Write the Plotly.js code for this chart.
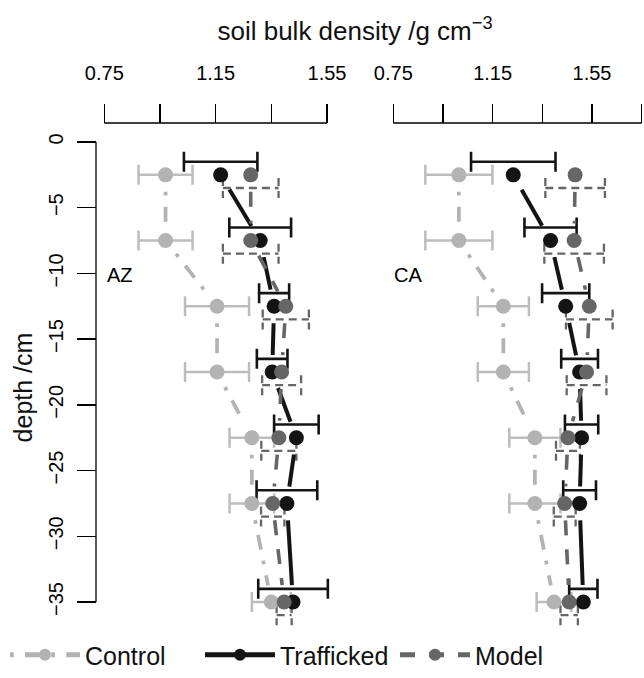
<!DOCTYPE html>
<html><head><meta charset="utf-8">
<script src="https://cdn.plot.ly/plotly-3.0.1.min.js"></script>
<style>html,body{margin:0;padding:0;background:#fff}</style>
</head><body>
<div id="chart" style="width:644px;height:678px"></div>
<script>
// ---------- data ----------
const depth = [-2.5, -7.5, -12.5, -17.5, -22.5, -27.5, -35];
const xTickVals = [0.75, 1.15, 1.55];
const xTickText = ['0.75', '1.15', '1.55'];
const xMinorLeft = [0.95, 1.35];
const xMinorRight = [0.95, 1.35, 1.75];
const yTickVals = [0, -5, -10, -15, -20, -25, -30, -35];
const siteNames = ['AZ', 'CA'];

const azControl   = [0.97, 0.97, 1.155, 1.155, 1.28, 1.28, 1.35];
const azControlSd = [0.097, 0.097, 0.115, 0.115, 0.08, 0.08, 0.07];
const azTraff     = [1.168, 1.31, 1.36, 1.353, 1.44, 1.406, 1.428];
const azTraffSd   = [0.132, 0.111, 0.054, 0.055, 0.08, 0.109, 0.125];
const azModel     = [1.276, 1.276, 1.402, 1.387, 1.377, 1.355, 1.396];
const azModelSd   = [0.10, 0.10, 0.083, 0.07, 0.063, 0.042, 0.027];

const caControl   = [1.014, 1.014, 1.193, 1.193, 1.32, 1.32, 1.397];
const caControlSd = [0.135, 0.135, 0.103, 0.103, 0.103, 0.103, 0.07];
const caTraff     = [1.233, 1.383, 1.444, 1.50, 1.508, 1.50, 1.515];
const caTraffSd   = [0.17, 0.105, 0.095, 0.074, 0.067, 0.066, 0.057];
const caModel     = [1.482, 1.478, 1.539, 1.528, 1.453, 1.44, 1.458];
const caModelSd   = [0.12, 0.12, 0.094, 0.08, 0.048, 0.044, 0.035];

// ---------- geometry (pixels) ----------
const W = 644, H = 678;
const FONT = 'Liberation Sans, Arial, Helvetica, sans-serif';
const px = v => v / W, py = v => 1 - v / H;
const yPix0 = 142, yPix35 = 602;              // pixel of y=0 and y=-35
const sy = (yPix35 - yPix0) / 35;              // px per cm
const yDom = [130, 645];
const yRange = [-35 - (yDom[1] - yPix35) / sy, 0 + (yPix0 - yDom[0]) / sy];

const xL = {p0: 104.3, p1: 327.0, v0: 0.75, v1: 1.55, dom: [92, 382]};
const xR = {p0: 393.3, p1: 641.7, v0: 0.75, v1: 1.75, dom: [386, 644]};
function scale(a) { return (a.p1 - a.p0) / (a.v1 - a.v0); }
function range(a) {
  const s = scale(a);
  return [a.v0 - (a.p0 - a.dom[0]) / s, a.v1 + (a.dom[1] - a.p1) / s];
}
const xAxisY = 123;
const yAxisX = 96;

const COL = {Control: '#B3B3B3', Trafficked: '#141414', Model: '#666666'};

// ---------- helpers ----------
function gapSeries(xs, ys, sx, gap) {
  const X = [], Y = [], S = [];
  for (let i = 0; i < xs.length; i++) {
    X.push(xs[i]); Y.push(ys[i]); S.push(15);
    if (i < xs.length - 1) {
      const ddx = xs[i + 1] - xs[i], ddy = ys[i + 1] - ys[i];
      const d = Math.hypot(ddx * sx, ddy * sy);
      X.push(null); Y.push(null); S.push(0);
      if (d > 2 * gap) {
        const f = gap / d;
        X.push(xs[i] + ddx * f, xs[i + 1] - ddx * f);
        Y.push(ys[i] + ddy * f, ys[i + 1] - ddy * f);
        S.push(0, 0);
        X.push(null); Y.push(null); S.push(0);
      }
    }
  }
  return {X, Y, S};
}
function capBars(xs, sds, ys, off, capPx) {
  const X = [], Y = [];
  const c = capPx / sy;
  for (let i = 0; i < xs.length; i++) {
    const y = ys[i] + off, lo = xs[i] - sds[i], hi = xs[i] + sds[i];
    X.push(lo, hi, null, lo, lo, null, hi, hi, null);
    Y.push(y, y, null, y + c, y - c, null, y + c, y - c, null);
  }
  return {X, Y};
}

const traces = [];
function panel(xa, ax, ctrl, ctrlSd, traf, trafSd, model, modelSd, showLegend) {
  const sx = scale(ax);
  traces.push({type: 'scatter', mode: 'markers', x: ctrl, y: depth, xaxis: xa, yaxis: 'y',
    marker: {size: 1, color: 'rgba(0,0,0,0)'}, showlegend: false, hoverinfo: 'skip', cliponaxis: false,
    error_x: {type: 'data', array: ctrlSd, visible: true, color: '#BDBDBD', thickness: 2.5, width: 10}});
  traces.push({type: 'scatter', mode: 'markers', x: traf, y: depth.map(d => d + 1), xaxis: xa, yaxis: 'y',
    marker: {size: 1, color: 'rgba(0,0,0,0)'}, showlegend: false, hoverinfo: 'skip', cliponaxis: false,
    error_x: {type: 'data', array: trafSd, visible: true, color: '#141414', thickness: 2.6, width: 10}});
  const mb = capBars(model, modelSd, depth, -1, 10);
  traces.push({type: 'scatter', mode: 'lines', x: mb.X, y: mb.Y, xaxis: xa, yaxis: 'y',
    line: {color: '#666666', width: 2.3, dash: '8px,5px'}, showlegend: false, hoverinfo: 'skip', cliponaxis: false});
  const defs = [
    ['Control', ctrl, {width: 3.75, dash: '3.75px,11.25px,15px,11.25px'}],
    ['Trafficked', traf, {width: 4, dash: 'solid'}],
    ['Model', model, {width: 3.6, dash: '15px,14px'}]
  ];
  defs.forEach(([name, xs, ln]) => {
    const g = gapSeries(xs, depth, sx, 17);
    traces.push({type: 'scatter', mode: 'lines+markers', name: name, legendgroup: name,
      showlegend: showLegend, x: g.X, y: g.Y, xaxis: xa, yaxis: 'y', cliponaxis: false,
      line: Object.assign({color: COL[name]}, ln),
      marker: {size: g.S, color: COL[name], opacity: 1, line: {width: 0}}});
  });
}
panel('x', xL, azControl, azControlSd, azTraff, azTraffSd, azModel, azModelSd, true);
panel('x2', xR, caControl, caControlSd, caTraff, caTraffSd, caModel, caModelSd, false);

const tickFont = {family: FONT, size: 20, color: '#000'};
function xAxisDef(ax, minorVals) {
  return {
    domain: [px(ax.dom[0]), px(ax.dom[1])], range: range(ax), side: 'top',
    anchor: 'free', position: py(xAxisY), showline: false, showgrid: false, zeroline: false,
    tickmode: 'array', tickvals: xTickVals, ticktext: xTickText,
    ticks: 'outside', ticklen: 19, tickwidth: 1.3, tickcolor: '#000',
    minor: {tickmode: 'array', tickvals: minorVals, ticks: 'outside', ticklen: 19, tickwidth: 1.3, tickcolor: '#000', showgrid: false},
    tickfont: tickFont, ticklabelstandoff: 16, fixedrange: true
  };
}

const layout = {
  width: W, height: H, margin: {l: 0, r: 0, t: 0, b: 0},
  paper_bgcolor: '#fff', plot_bgcolor: 'rgba(0,0,0,0)',
  font: {family: FONT, color: '#000'},
  title: {text: 'soil bulk density /g cm<sup>\u22123</sup>', font: {family: FONT, size: 26, color: '#111'},
    x: px(355), xref: 'paper', xanchor: 'center', y: py(31), yref: 'paper', yanchor: 'middle'},
  xaxis: xAxisDef(xL, xMinorLeft),
  xaxis2: xAxisDef(xR, xMinorRight),
  yaxis: {
    domain: [py(yDom[1]), py(yDom[0])], range: yRange, anchor: 'free', position: px(yAxisX),
    side: 'left', showline: false, showgrid: false, zeroline: false,
    tickmode: 'array', tickvals: yTickVals, ticks: 'outside', ticklen: 19, tickwidth: 1.3, tickcolor: '#000',
    tickangle: -90, tickfont: tickFont, ticklabelstandoff: 6, fixedrange: true,
    title: {text: 'depth /cm', font: {family: FONT, size: 25, color: '#111'}, standoff: 4}
  },
  shapes: [
    {type: 'line', xref: 'x', yref: 'paper', x0: xL.v0, x1: xL.v1, y0: py(xAxisY), y1: py(xAxisY), line: {color: '#000', width: 1.3}},
    {type: 'line', xref: 'x2', yref: 'paper', x0: xR.v0, x1: xR.v1, y0: py(xAxisY), y1: py(xAxisY), line: {color: '#000', width: 1.3}},
    {type: 'line', xref: 'paper', yref: 'y', x0: px(yAxisX), x1: px(yAxisX), y0: 0, y1: -35, line: {color: '#000', width: 1.3}}
  ],
  annotations: [
    {text: siteNames[0], xref: 'paper', yref: 'paper', x: px(105), y: py(275), xanchor: 'left', yanchor: 'middle', showarrow: false, font: {family: FONT, size: 20, color: '#000'}},
    {text: siteNames[1], xref: 'paper', yref: 'paper', x: px(392), y: py(275), xanchor: 'left', yanchor: 'middle', showarrow: false, font: {family: FONT, size: 20, color: '#000'}}
  ],
  legend: {orientation: 'h', x: px(5), xanchor: 'left', y: 0, yanchor: 'bottom',
    font: {family: FONT, size: 25, color: '#111'}, entrywidth: 110, entrywidthmode: 'pixels',
    itemwidth: 70, itemsizing: 'constant', bgcolor: 'rgba(0,0,0,0)', traceorder: 'normal'},
  showlegend: true
};

Plotly.newPlot('chart', traces, layout, {staticPlot: true, displayModeBar: false});
</script>
</body></html>
